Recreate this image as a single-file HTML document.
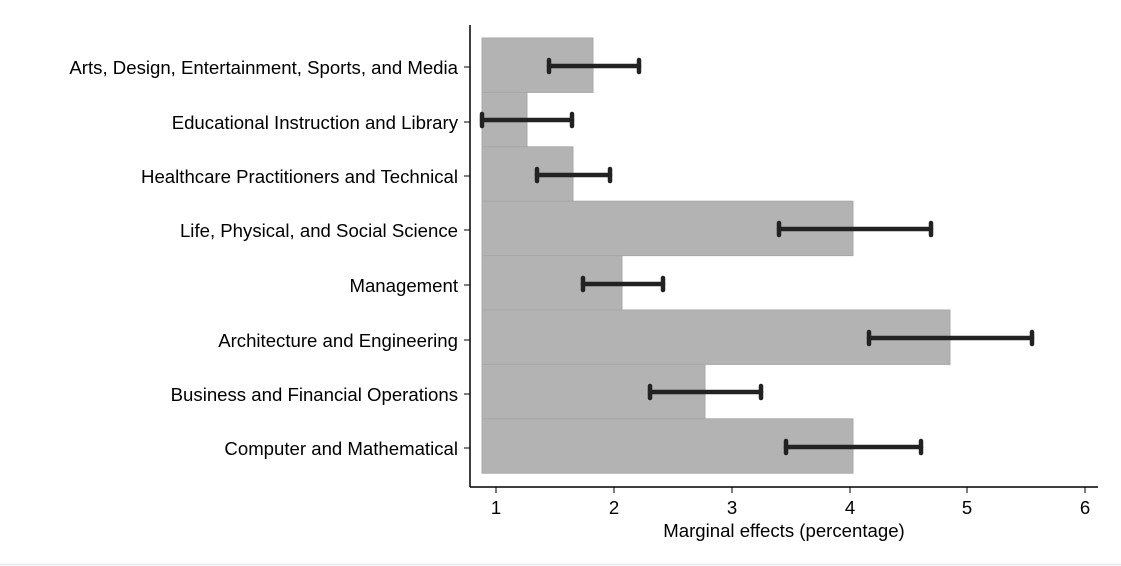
<!DOCTYPE html>
<html><head><style>body{margin:0;background:#fff}svg{display:block}</style></head><body>
<svg width="1121" height="566" xmlns="http://www.w3.org/2000/svg" font-family="Liberation Sans, sans-serif">
<rect width="1121" height="566" fill="#fff"/>
<line x1="0" y1="564.5" x2="1121" y2="564.5" stroke="#e6ecf2" stroke-width="2"/>
<g fill="#b3b3b3" stroke="#a8a8a8" stroke-width="1">
<rect x="482" y="38" width="111" height="54.4"/>
<rect x="482" y="92.4" width="45" height="54.4"/>
<rect x="482" y="146.8" width="91" height="54.4"/>
<rect x="482" y="201.2" width="371" height="54.4"/>
<rect x="482" y="255.6" width="140" height="54.4"/>
<rect x="482" y="310" width="468" height="54.4"/>
<rect x="482" y="364.4" width="223" height="54.4"/>
<rect x="482" y="418.8" width="371" height="54.4"/>
</g>
<g stroke="#222" stroke-width="4.5" stroke-linecap="round">
<line x1="549" y1="66" x2="639" y2="66"/><line x1="549" y1="60" x2="549" y2="72"/><line x1="639" y1="60" x2="639" y2="72"/>
<line x1="482" y1="120" x2="572" y2="120"/><line x1="482" y1="114" x2="482" y2="126"/><line x1="572" y1="114" x2="572" y2="126"/>
<line x1="537" y1="175" x2="610" y2="175"/><line x1="537" y1="169" x2="537" y2="181"/><line x1="610" y1="169" x2="610" y2="181"/>
<line x1="779" y1="229" x2="931" y2="229"/><line x1="779" y1="223" x2="779" y2="235"/><line x1="931" y1="223" x2="931" y2="235"/>
<line x1="583" y1="284" x2="663" y2="284"/><line x1="583" y1="278" x2="583" y2="290"/><line x1="663" y1="278" x2="663" y2="290"/>
<line x1="869" y1="338" x2="1032" y2="338"/><line x1="869" y1="332" x2="869" y2="344"/><line x1="1032" y1="332" x2="1032" y2="344"/>
<line x1="650" y1="392" x2="761" y2="392"/><line x1="650" y1="386" x2="650" y2="398"/><line x1="761" y1="386" x2="761" y2="398"/>
<line x1="786" y1="447" x2="921" y2="447"/><line x1="786" y1="441" x2="786" y2="453"/><line x1="921" y1="441" x2="921" y2="453"/>
</g>
<g stroke="#000" stroke-width="1.5">
<line x1="470" y1="25" x2="470" y2="487"/>
<line x1="470" y1="487" x2="1098" y2="487"/>
</g>
<g stroke="#000" stroke-width="1">
<line x1="464" y1="67" x2="470" y2="67"/><line x1="464" y1="122" x2="470" y2="122"/><line x1="464" y1="176" x2="470" y2="176"/><line x1="464" y1="230" x2="470" y2="230"/>
<line x1="464" y1="285" x2="470" y2="285"/><line x1="464" y1="340" x2="470" y2="340"/><line x1="464" y1="394" x2="470" y2="394"/><line x1="464" y1="448" x2="470" y2="448"/>
<line x1="496" y1="487" x2="496" y2="493"/><line x1="614" y1="487" x2="614" y2="493"/><line x1="732" y1="487" x2="732" y2="493"/><line x1="850" y1="487" x2="850" y2="493"/><line x1="967" y1="487" x2="967" y2="493"/><line x1="1085" y1="487" x2="1085" y2="493"/>
</g>
<g font-size="18.6" fill="#000" text-anchor="end">
<text x="458" y="74">Arts, Design, Entertainment, Sports, and Media</text>
<text x="458" y="129">Educational Instruction and Library</text>
<text x="458" y="183">Healthcare Practitioners and Technical</text>
<text x="458" y="237">Life, Physical, and Social Science</text>
<text x="458" y="292">Management</text>
<text x="458" y="347">Architecture and Engineering</text>
<text x="458" y="401">Business and Financial Operations</text>
<text x="458" y="455">Computer and Mathematical</text>
</g>
<g font-size="18.6" fill="#000" text-anchor="middle">
<text x="496" y="514">1</text><text x="614" y="514">2</text><text x="732" y="514">3</text><text x="850" y="514">4</text><text x="967" y="514">5</text><text x="1085" y="514">6</text>
<text x="784" y="537">Marginal effects (percentage)</text>
</g>
</svg>
</body></html>
